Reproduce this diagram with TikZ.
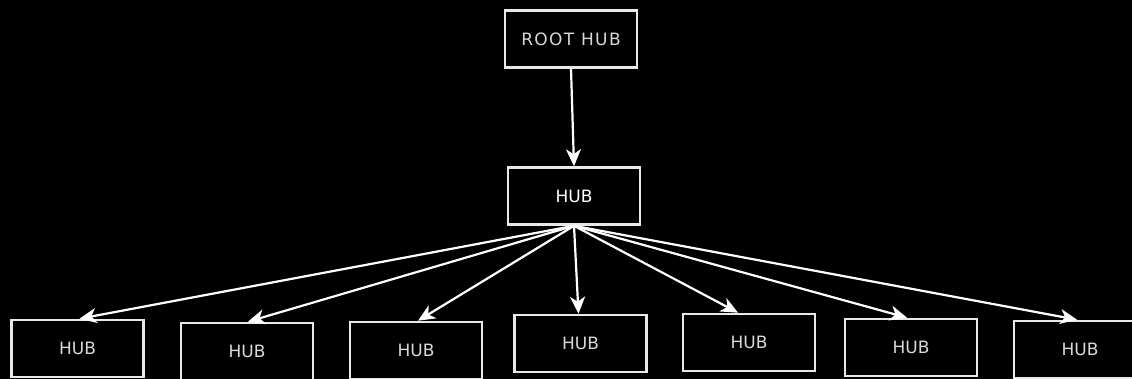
\documentclass[tikz,border=0pt]{standalone}
\usepackage{fontspec}
\setmainfont{DejaVu Sans}
\usetikzlibrary{arrows.meta}
\definecolor{edge}{HTML}{E8E8E8}
\definecolor{txt}{HTML}{D8D8D8}
\begin{document}
\begin{tikzpicture}[x=1pt,y=-1pt,
  hubbox/.style={draw=edge,line width=2.6pt,rectangle,minimum width=132pt,minimum height=57pt,inner sep=0pt,text=txt,font=\fontsize{17pt}{19pt}\selectfont},
  link/.style={draw=white,line width=2.2pt,-{Stealth[length=17pt,width=15pt,inset=5pt]}}]
\fill[black] (0,0) rectangle (1132,379);
\useasboundingbox (0,0) rectangle (1132,379);
\clip (0,0) rectangle (1132,379);
\node[hubbox,font=\fontsize{17pt}{19pt}\selectfont\addfontfeatures{LetterSpace=8}] (root) at (571,39) {ROOT HUB};
\node[hubbox,text=white] (hub) at (574,196) {HUB};
\node[hubbox] (b1) at (77.5,348.5) {HUB};
\node[hubbox] (b2) at (247,351.5) {HUB};
\node[hubbox] (b3) at (416,350.5) {HUB};
\node[hubbox] (b4) at (580.5,343.5) {HUB};
\node[hubbox] (b5) at (749,342.5) {HUB};
\node[hubbox] (b6) at (911,347.5) {HUB};
\node[hubbox] (b7) at (1080,349.5) {HUB};
\draw[link] (root.south) -- (hub.north);
\foreach \b/\dx in {b1/2,b2/1,b3/2,b4/-2,b5/-11,b6/-4,b7/-3}{
  \draw[link] (hub.south) -- ([xshift=\dx pt]\b.north);
}
\end{tikzpicture}
\end{document}
